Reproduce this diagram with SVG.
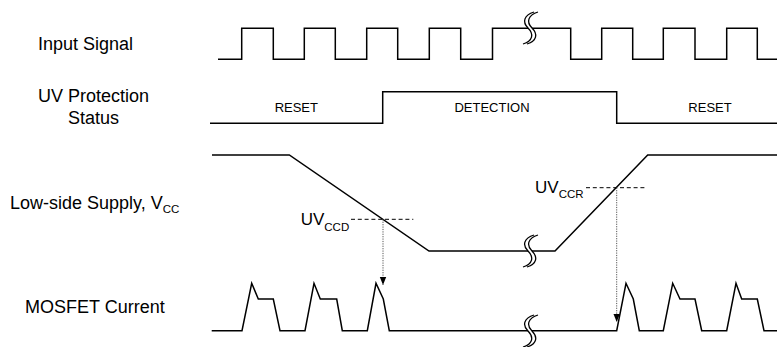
<svg xmlns="http://www.w3.org/2000/svg" width="777" height="347" viewBox="0 0 777 347">
  <style>
    .lbl { font-family: "Liberation Sans", Arial, sans-serif; font-size: 18px; fill: #000; }
    .st { font-family: "Liberation Sans", Arial, sans-serif; font-size: 13px; fill: #000; text-anchor: middle; }
    .uv { font-family: "Liberation Sans", Arial, sans-serif; font-size: 17px; fill: #000; }
    .sub { font-size: 11.5px; }
    .wave { fill: none; stroke: #000; stroke-width: 1.5; stroke-linejoin: miter; }
    .brk { fill: none; stroke: #000; stroke-width: 1.3; }
    .dash { fill: none; stroke: #000; stroke-width: 1; stroke-dasharray: 4 2.8; }
    .dot { fill: none; stroke: #555; stroke-width: 1; stroke-dasharray: 1.2 1.2; }
  </style>
  <defs>
    <marker id="ah" viewBox="0 0 8 8" refX="8" refY="4" markerWidth="8" markerHeight="8" markerUnits="userSpaceOnUse" orient="auto">
      <path d="M0,0.8 L8,4 L0,7.2 Z" fill="#000"/>
    </marker>
    <g id="breaksym">
      <path class="brk" d="M4,-16 C-6,-13 -8,-6 -2,0 C4,6 3,13 -7,16"/>
      <path class="brk" d="M8,-16 C-2,-13 -4,-6 2,0 C8,6 7,13 -3,16"/>
    </g>
  </defs>

  <g id="labels">
    <text class="lbl" x="38" y="50">Input Signal</text>
    <text class="lbl" x="93.5" y="101.5" text-anchor="middle">UV Protection</text>
    <text class="lbl" x="93.5" y="123.5" text-anchor="middle">Status</text>
    <text class="lbl" x="10" y="209">Low-side Supply, V<tspan class="sub" dy="4">CC</tspan></text>
    <text class="lbl" x="25" y="313">MOSFET Current</text>
  </g>

  <g id="input-signal">
    <path class="wave" d="M218,59.3 H241.7 V28.3 H273.3 V59.3 H304.3 V28.3 H335.3 V59.3 H366.7 V28.3 H397.7 V59.3 H429.3 V28.3 H460.7 V59.3 H492.5 V28.3 H528"/>
    <path class="wave" d="M532,28.3 H570.7 V59.3 H601.7 V28.3 H632.7 V59.3 H663.3 V28.3 H695 V59.3 H726.7 V28.3 H757.3 V59.3 H777"/>
    <use href="#breaksym" x="530" y="28"/>
  </g>

  <g id="uv-status">
    <path class="wave" d="M210,123.3 H382.7 V91.7 H616.7 V123.3 H777"/>
    <text class="st" x="296.3" y="112">RESET</text>
    <text class="st" x="492" y="112">DETECTION</text>
    <text class="st" x="710" y="112">RESET</text>
  </g>

  <g id="vcc">
    <path class="wave" d="M212,155 H289.3 L429,251 H528"/>
    <path class="wave" d="M532,251 H555 L647.7,155 H777"/>
    <use href="#breaksym" x="530" y="251"/>
    <path class="dash" d="M351,219.3 H413.3"/>
    <path class="dash" d="M586,187.7 H646.7"/>
    <text class="uv" x="300.7" y="224.5">UV<tspan class="sub" dy="6">CCD</tspan></text>
    <text class="uv" x="535" y="193.3">UV<tspan class="sub" dy="5">CCR</tspan></text>
  </g>

  <g id="mosfet-current">
    <path class="wave" d="M211.7,330.7 H242 L251.7,283.3 L258.3,299 H273.3 L280,330.7 H305 L314,283.3 L320.3,299 H336.7 L342.3,330.7 H367.3 L376,283.3 L383.3,299 L389.3,330.7 H528"/>
    <path class="wave" d="M532,330.7 H616.7 L626,283.3 L633.3,299 L639.3,330.7 H663.3 L672.7,283.3 L680,299 H695 L701.7,330.7 H726.7 L736,283.3 L741.7,299 H757.3 L764,330.7 H777"/>
    <use href="#breaksym" x="530" y="331"/>
  </g>

  <g id="connectors">
    <path class="dot" d="M383,219.3 V285" marker-end="url(#ah)"/>
    <path class="dot" d="M616.7,187.7 V322" marker-end="url(#ah)"/>
  </g>
</svg>
